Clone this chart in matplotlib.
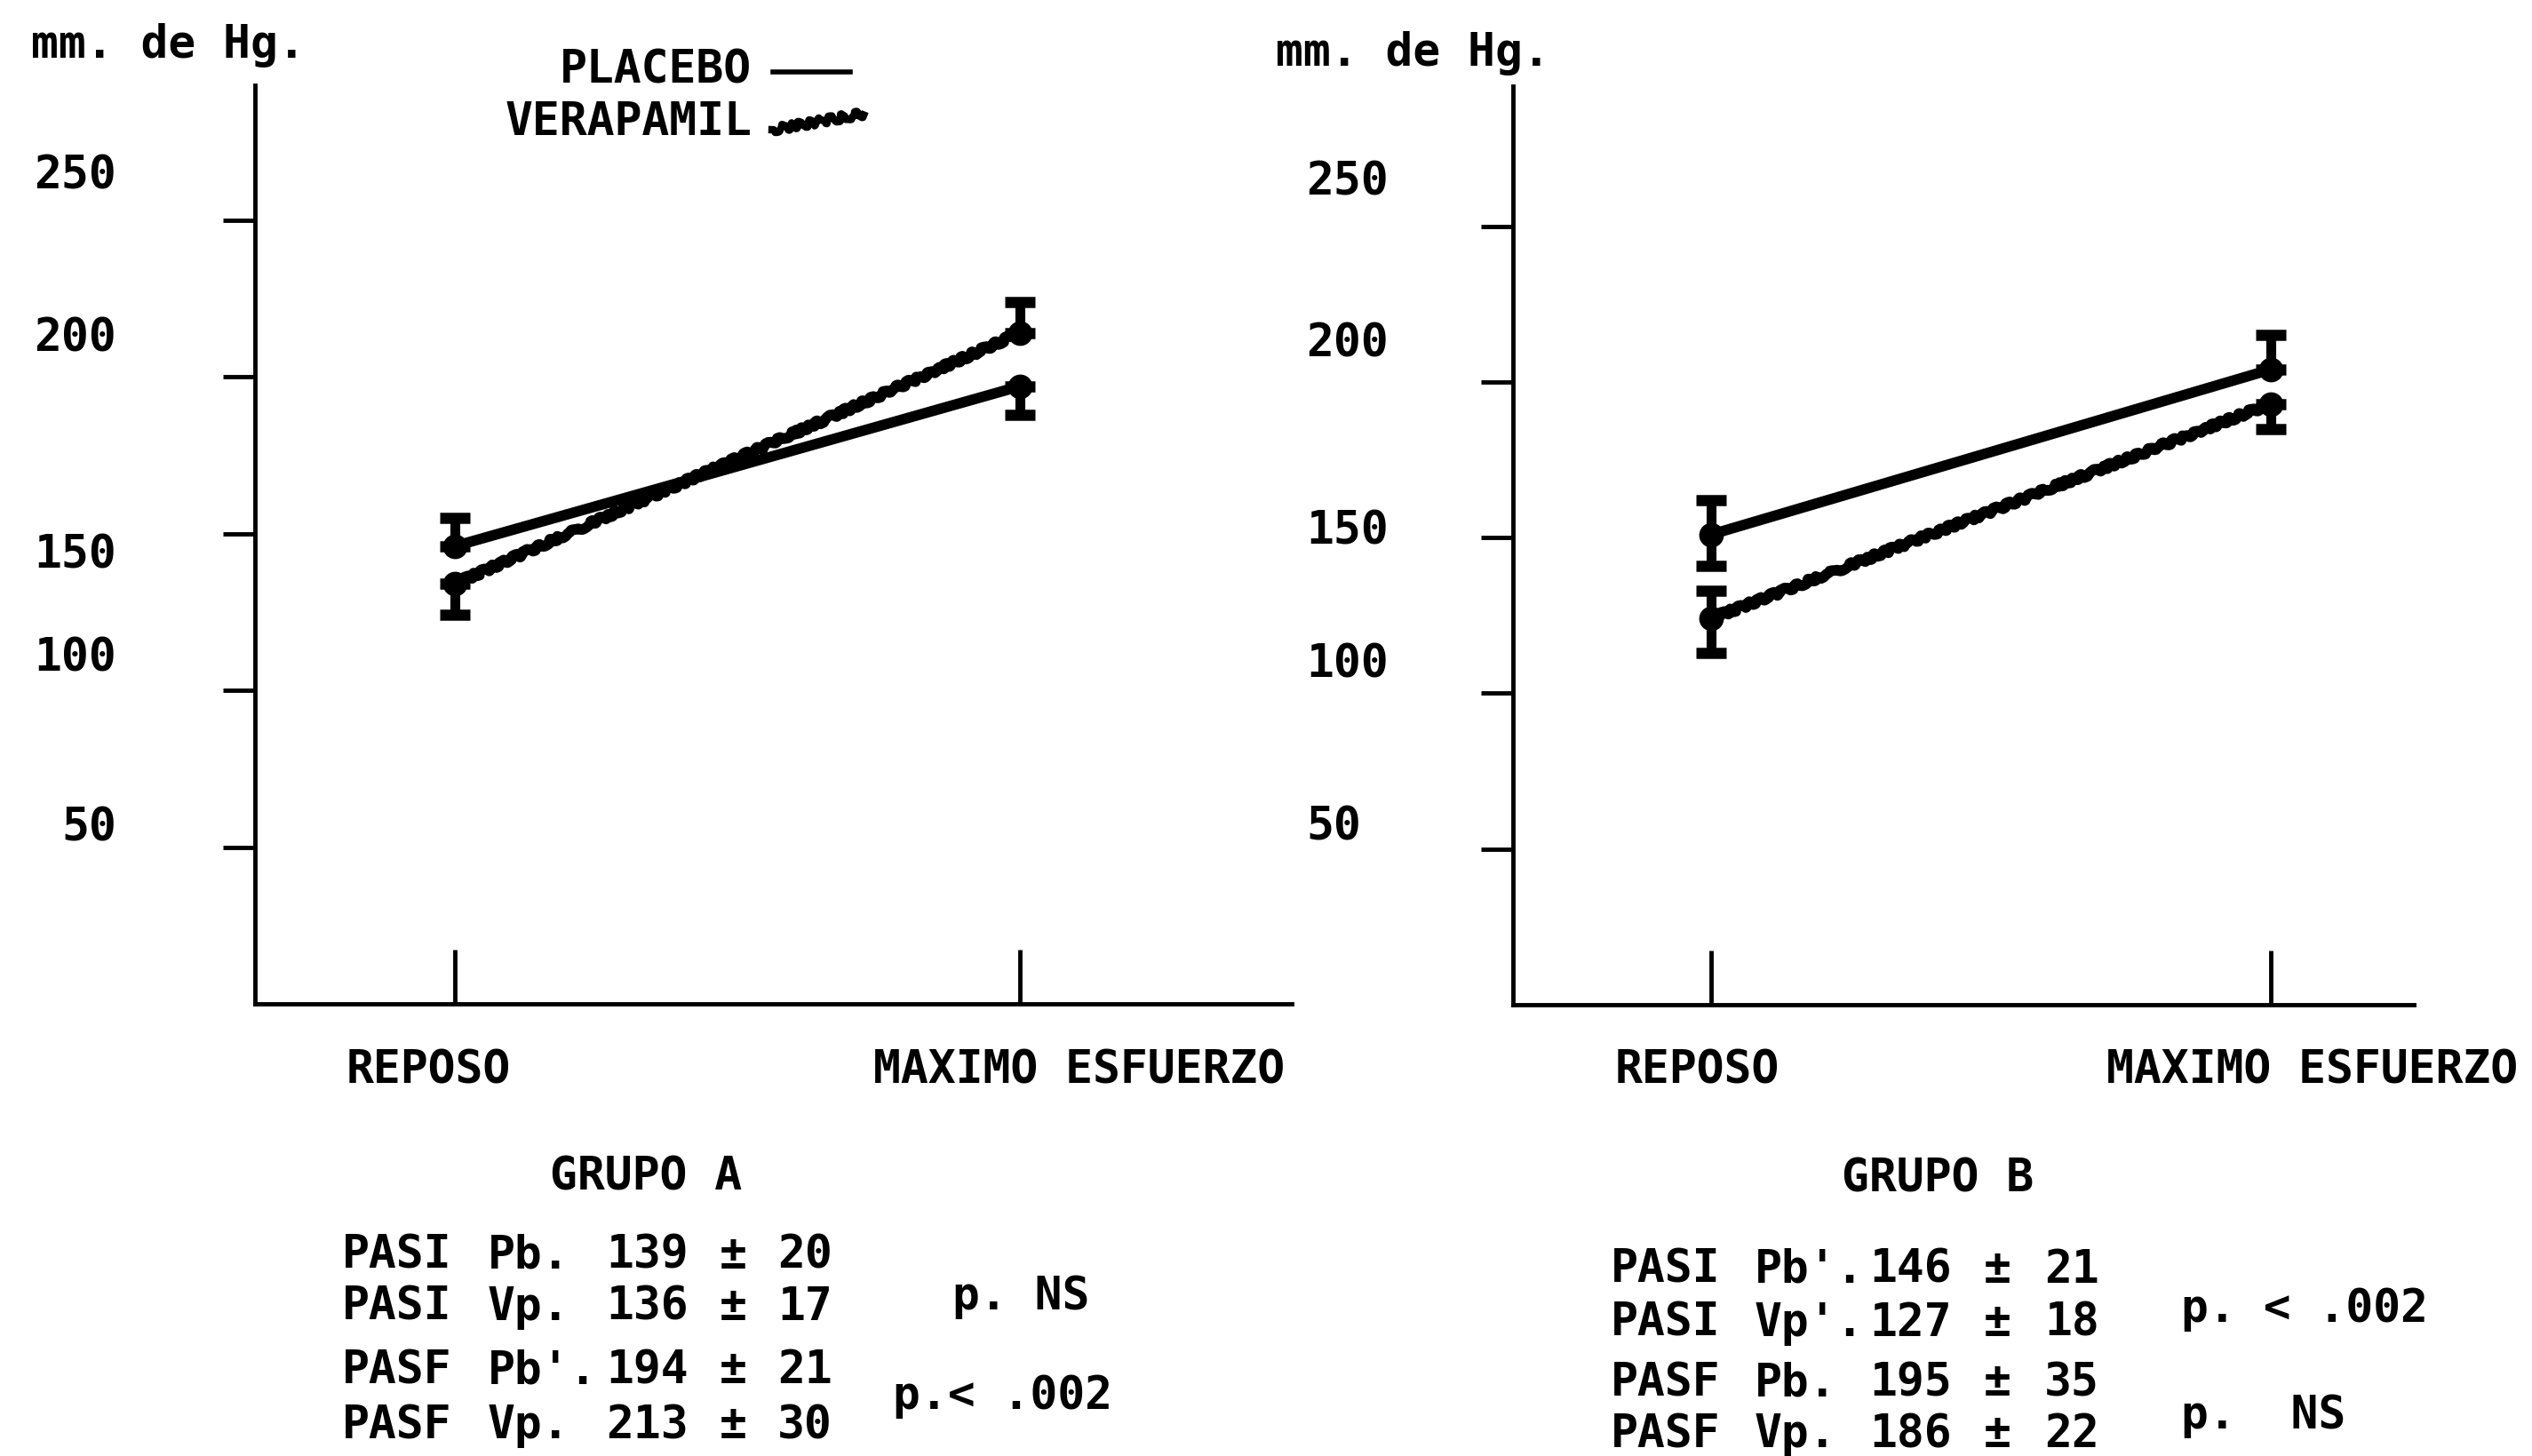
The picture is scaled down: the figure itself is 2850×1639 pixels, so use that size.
"""Tension arterial sistolica en reposo y maximo esfuerzo: placebo vs verapamil, grupos A y B."""
import matplotlib
matplotlib.use("Agg")
import matplotlib.pyplot as plt
from matplotlib.lines import Line2D
from matplotlib.transforms import blended_transform_factory as blend

W, H = 2850, 1639
FONT = dict(family="DejaVu Sans Mono", weight="bold", size=37)

STAGES = ["REPOSO", "MAXIMO ESFUERZO"]
STAGE_X = [0, 1]
Y_TICKS = [50, 100, 150, 200, 250]
Y_TICK_LABELS = ["50", "100", "150", "200", "250"]
Y_UNIT = "mm. de Hg."
SERIES = ["PLACEBO", "VERAPAMIL"]

# grupo A (mm Hg) and one-sided error bars
A_PLACEBO = [146, 197]
A_PLACEBO_LO = [0, 9]
A_PLACEBO_HI = [9, 0]
A_VERAPAMIL = [134, 214]
A_VERAPAMIL_LO = [10, 0]
A_VERAPAMIL_HI = [0, 10]

# grupo B
B_PLACEBO = [151, 204]
B_PLACEBO_LO = [10, 0]
B_PLACEBO_HI = [11, 11]
B_VERAPAMIL = [124, 193]
B_VERAPAMIL_LO = [11, 8]
B_VERAPAMIL_HI = [9, 0]

A_TITLE = "GRUPO A"
A_MEASURE = ["PASI", "PASI", "PASF", "PASF"]
A_DRUG = ["Pb.", "Vp.", "Pb'.", "Vp."]
A_MEAN = [139, 136, 194, 213]
A_SD = [20, 17, 21, 30]
A_PVALS = ["p. NS", "p.< .002"]

B_TITLE = "GRUPO B"
B_MEASURE = ["PASI", "PASI", "PASF", "PASF"]
B_DRUG = ["Pb'.", "Vp'.", "Pb.", "Vp."]
B_MEAN = [146, 127, 195, 186]
B_SD = [21, 18, 35, 22]
B_PVALS = ["p. < .002", "p.  NS"]


def fx(x):
    return x / W


def fy(y):
    return 1 - y / H


def panel(fig, box, ylim, xlim, placebo, verapamil, ylab_pos, ylab_x, ylab_ha,
          xlab_pos, unit_xy):
    x0, y0, x1, y1 = box
    ax = fig.add_axes([fx(x0), fy(y1), (x1 - x0) / W, (y1 - y0) / H])
    ax.set_xlim(*xlim); ax.set_ylim(*ylim)
    for s in ("top", "right"):
        ax.spines[s].set_visible(False)
    for s in ("left", "bottom"):
        ax.spines[s].set_linewidth(3.5)
    ax.set_yticks(Y_TICKS); ax.set_yticklabels([])
    ax.set_xticks(STAGE_X); ax.set_xticklabels([])
    ax.tick_params(axis="y", direction="out", length=26, width=3.5)
    ax.tick_params(axis="x", direction="in", length=44, width=3.5)

    # y labels were typed by hand, slightly off their ticks
    tr = blend(fig.transFigure, ax.transData)
    for lab, yv in zip(Y_TICK_LABELS, ylab_pos):
        fig.text(fx(ylab_x), yv, lab, transform=tr, ha=ylab_ha, va="center", **FONT)
    trx = blend(ax.transData, fig.transFigure)
    for lab, xv in zip(STAGES, xlab_pos):
        ax.text(xv, fy(1205), lab, transform=trx, ha="center", va="center", **FONT)
    fig.text(fx(unit_xy[0]), fy(unit_xy[1]), Y_UNIT, ha="left", va="center", **FONT)

    for vals, lo, hi, jag in (placebo + (False,), verapamil + (True,)):
        ln, = ax.plot(STAGE_X, vals, color="k", lw=8.5, marker="o", ms=19,
                      solid_capstyle="round")
        if jag:
            ln.set_sketch_params(scale=2.5, length=25, randomness=8)
        ax.errorbar(STAGE_X, vals, yerr=[lo, hi], fmt="none", ecolor="k",
                    elinewidth=8, capsize=12, capthick=9)
    return ax


def table(fig, title, title_xy, measure, drug, mean, sd, cols, rows, pvals, ppos):
    fig.text(fx(title_xy[0]), fy(title_xy[1]), title, ha="center", va="center", **FONT)
    cx_meas, cx_drug, cx_mean, cx_pm, cx_sd = cols
    for m, d, mu, s, ry in zip(measure, drug, mean, sd, rows):
        fig.text(fx(cx_meas), fy(ry), m, ha="left", va="center", **FONT)
        fig.text(fx(cx_drug), fy(ry), d, ha="left", va="center", **FONT)
        fig.text(fx(cx_mean), fy(ry), str(mu), ha="left", va="center", **FONT)
        fig.text(fx(cx_pm), fy(ry), "±", ha="center", va="center", **FONT)
        fig.text(fx(cx_sd), fy(ry), str(s), ha="left", va="center", **FONT)
    for pv, (px, py) in zip(pvals, ppos):
        fig.text(fx(px), fy(py), pv, ha="left", va="center", **FONT)


def main():
    fig = plt.figure(figsize=(W / 100, H / 100), dpi=100)

    panel(fig, (287, 96, 1454, 1130), (0, 293), (-0.354, 1.481),
          (A_PLACEBO, A_PLACEBO_LO, A_PLACEBO_HI),
          (A_VERAPAMIL, A_VERAPAMIL_LO, A_VERAPAMIL_HI),
          [56, 110, 143, 212, 264], 131, "right", [-0.047, 1.104], (35, 51))
    panel(fig, (1703, 97, 2717, 1131), (0, 295), (-0.354, 1.256),
          (B_PLACEBO, B_PLACEBO_LO, B_PLACEBO_HI),
          (B_VERAPAMIL, B_VERAPAMIL_LO, B_VERAPAMIL_HI),
          [57, 109, 152, 212, 264], 1470, "left", [-0.025, 1.075], (1436, 60))

    # legend, drawn by hand like the original
    fig.text(fx(846), fy(79), SERIES[0], ha="right", va="center", **FONT)
    fig.text(fx(846), fy(138), SERIES[1], ha="right", va="center", **FONT)
    fig.add_artist(Line2D([fx(870), fx(957)], [fy(81), fy(81)], color="k", lw=4))
    wav = Line2D([fx(869), fx(972)], [fy(146), fy(128)], color="k", lw=6)
    wav.set_sketch_params(scale=4, length=20, randomness=6)
    fig.add_artist(wav)

    # summary tables under each panel
    table(fig, A_TITLE, (727, 1325), A_MEASURE, A_DRUG, A_MEAN, A_SD,
          (385, 549, 682, 825, 875), [1414, 1472, 1543, 1605],
          A_PVALS, [(1072, 1460), (1005, 1572)])
    table(fig, B_TITLE, (2181, 1327), B_MEASURE, B_DRUG, B_MEAN, B_SD,
          (1813, 1975, 2104, 2248, 2301), [1430, 1490, 1557, 1615],
          B_PVALS, [(2455, 1474), (2455, 1594)])

    fig.savefig("out.png", dpi=100, facecolor="white")
    plt.close(fig)


if __name__ == "__main__":
    main()
